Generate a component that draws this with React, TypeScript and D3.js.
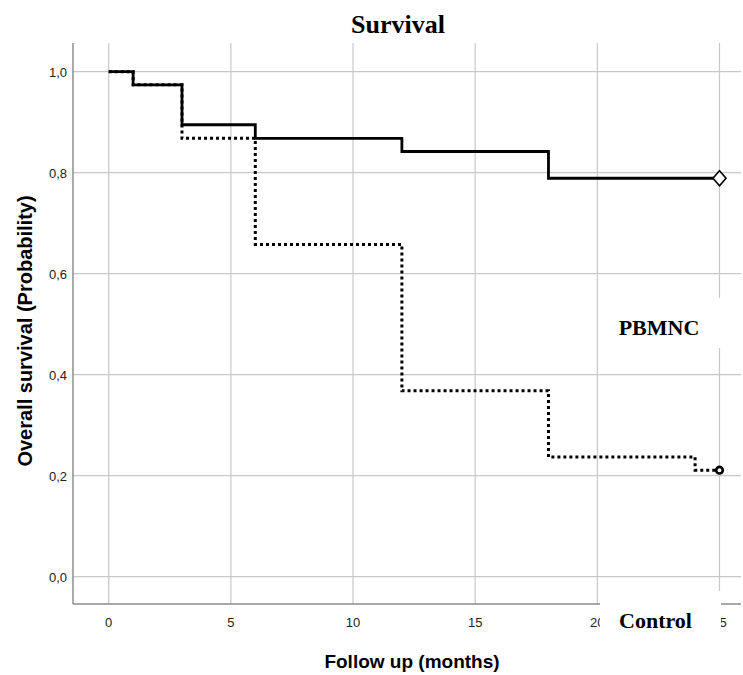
import React from 'react';
import * as d3 from 'd3';

// Kaplan-Meier steps
const pbmncTimes = [0, 1, 3, 6, 12, 18, 25];
const pbmncSurv = [1.0, 0.974, 0.895, 0.868, 0.842, 0.789, 0.789];
const controlTimes = [0, 1, 3, 6, 12, 18, 24, 25];
const controlSurv = [1.0, 0.974, 0.868, 0.658, 0.368, 0.237, 0.211, 0.211];

const xTicks = [0, 5, 10, 15, 20, 25];
const yTicks = [0, 0.2, 0.4, 0.6, 0.8, 1.0];

const W = 743;
const H = 675;

const App = () => {
  const axisLeft = 73;
  const axisBottom = 604;
  const plotTop = 43;
  const plotRight = 741;

  const x = d3.scaleLinear().domain([0, 25]).range([108.7, 719.5]);
  const y = d3.scaleLinear().domain([0, 1]).range([576.7, 71.7]);

  const step = d3
    .line<[number, number]>()
    .x((d) => x(d[0]))
    .y((d) => y(d[1]))
    .curve(d3.curveStepAfter);

  const pbmnc = pbmncTimes.map((t, i) => [t, pbmncSurv[i]] as [number, number]);
  const control = controlTimes.map((t, i) => [t, controlSurv[i]] as [number, number]);

  const fmt = (v: number) => v.toFixed(1).replace('.', ',');
  const lastP = pbmnc[pbmnc.length - 1];
  const lastC = control[control.length - 1];
  const dx = x(lastP[0]);
  const dy = y(lastP[1]);

  return (
    <div style={{ position: 'absolute', left: 0, top: 0 }}>
      <svg width={W} height={H} style={{ display: 'block', background: '#fff' }}>
        <text x={398} y={33} textAnchor="middle" fontFamily="Liberation Serif" fontWeight="bold" fontSize={26}>
          Survival
        </text>

        {/* grid */}
        {xTicks.map((t) => (
          <line key={'gx' + t} x1={x(t)} x2={x(t)} y1={plotTop} y2={axisBottom} stroke="#c8c8c8" strokeWidth={1.2} />
        ))}
        {yTicks.map((t) => (
          <line key={'gy' + t} x1={axisLeft} x2={plotRight} y1={y(t)} y2={y(t)} stroke="#c8c8c8" strokeWidth={1.2} />
        ))}

        {/* axes */}
        <line x1={axisLeft} x2={axisLeft} y1={plotTop} y2={axisBottom} stroke="#8c8c8c" strokeWidth={1.5} />
        <line x1={axisLeft} x2={plotRight} y1={axisBottom} y2={axisBottom} stroke="#8c8c8c" strokeWidth={1.5} />

        {yTicks.map((t) => (
          <text key={'ty' + t} x={67} y={y(t) + 5.5} textAnchor="end" fontFamily="Liberation Sans" fontSize={13} fill="#222">
            {fmt(t)}
          </text>
        ))}
        {xTicks.map((t) => (
          <text key={'tx' + t} x={x(t)} y={627} textAnchor="middle" fontFamily="Liberation Sans" fontSize={13} fill="#222">
            {t}
          </text>
        ))}

        <text x={412} y={668} textAnchor="middle" fontFamily="Liberation Sans" fontWeight="bold" fontSize={19}>
          Follow up (months)
        </text>
        <text
          transform={`translate(32,331) rotate(-90)`}
          textAnchor="middle"
          fontFamily="Liberation Sans"
          fontWeight="bold"
          fontSize={20}
        >
          Overall survival (Probability)
        </text>

        {/* curves */}
        <path d={step(control) ?? ''} fill="none" stroke="#000" strokeWidth={3} strokeDasharray="3,3" />
        <path d={step(pbmnc) ?? ''} fill="none" stroke="#000" strokeWidth={2.8} />

        <path
          d={`M${dx},${dy - 7.5}L${dx + 6.5},${dy}L${dx},${dy + 7.5}L${dx - 6.5},${dy}Z`}
          fill="#fff"
          stroke="#000"
          strokeWidth={1.6}
        />
        <circle cx={x(lastC[0])} cy={y(lastC[1])} r={3.3} fill="#fff" stroke="#000" strokeWidth={2.6} />

        {/* pasted label boxes */}
        <rect x={600} y={298} width={123} height={50} fill="#fff" />
        <text x={659} y={335} textAnchor="middle" fontFamily="Liberation Serif" fontWeight="bold" fontSize={22}>
          PBMNC
        </text>
        <rect x={600} y={591} width={121} height={60} fill="#fff" />
        <text x={655.5} y={628} textAnchor="middle" fontFamily="Liberation Serif" fontWeight="bold" fontSize={22}>
          Control
        </text>
      </svg>
    </div>
  );
};

export default App;
